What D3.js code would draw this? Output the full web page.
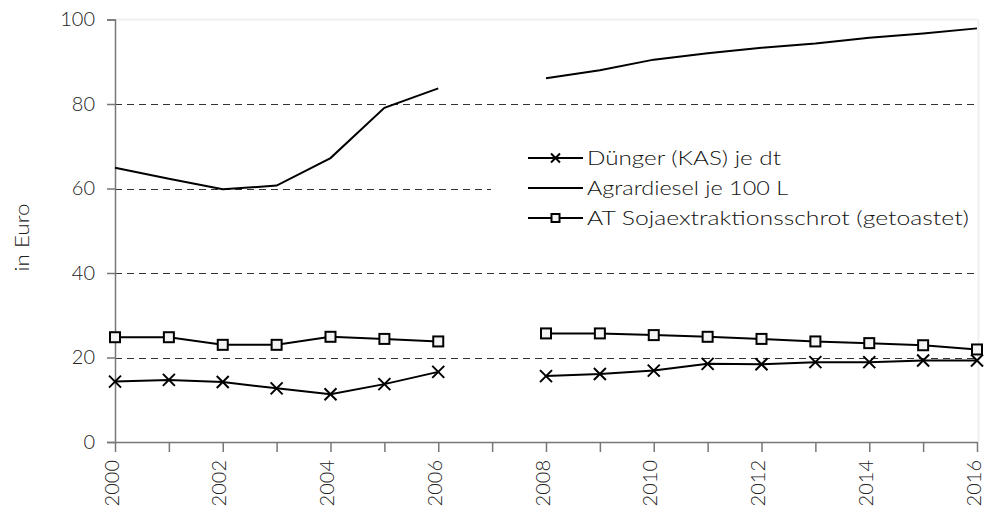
<!DOCTYPE html>
<html><head><meta charset="utf-8">
<script src="https://cdn.jsdelivr.net/npm/d3@7"></script>
<style>body{margin:0;background:#fff}svg{display:block}</style>
</head><body><svg id="c" width="985" height="519"></svg>
<script>
const years = [2000,2001,2002,2003,2004,2005,2006,2007,2008,2009,2010,2011,2012,2013,2014,2015,2016];
const duenger = [14.3,14.7,14.2,12.7,11.3,13.7,16.6,null,15.6,16.1,16.9,18.5,18.4,18.9,18.9,19.3,19.3];
const diesel = [64.9,62.3,59.8,60.7,67.2,79.1,83.7,null,86.1,88.0,90.5,92.0,93.3,94.3,95.7,96.7,97.9];
const soja = [24.8,24.8,23.0,23.0,24.9,24.4,23.8,null,25.7,25.7,25.3,24.9,24.4,23.8,23.4,22.9,21.9];
const yTicks = [0,20,40,60,80,100];
const xLabelYears = [2000,2002,2004,2006,2008,2010,2012,2014,2016];
const seriesNames = ["Dünger (KAS) je dt","Agrardiesel je 100 L","AT Sojaextraktionsschrot (getoastet)"];
const yTitle = "in Euro";

const FONT = "Lato, 'DejaVu Sans', sans-serif";
const svg = d3.select("#c");
const x = d3.scaleLinear().domain([2000,2016]).range([115,977]);
const y = d3.scaleLinear().domain([0,100]).range([442,19.5]);

// plot border (faint)
svg.append("line").attr("x1",115).attr("x2",978).attr("y1",19.5).attr("y2",19.5).attr("stroke","#f0f0f0").attr("stroke-width",2);
svg.append("line").attr("x1",978.5).attr("x2",978.5).attr("y1",19.5).attr("y2",442).attr("stroke","#f0f0f0").attr("stroke-width",2);

// grid
svg.append("g").selectAll("line").data(yTicks.filter(v=>v>0&&v<100)).join("line")
  .attr("x1",115).attr("x2",977).attr("y1",d=>Math.round(y(d))+0.5).attr("y2",d=>Math.round(y(d))+0.5)
  .attr("stroke","#333").attr("stroke-width",1).attr("stroke-dasharray","7,5");

// y axis
const ya = svg.append("g").attr("transform","translate(115,0)")
  .call(d3.axisLeft(y).tickValues(yTicks).tickSize(8).tickPadding(12).tickFormat(d3.format("d")));
ya.select(".domain").attr("stroke","#777").attr("stroke-width",1.5);
ya.selectAll(".tick line").attr("stroke","#777").attr("stroke-width",1.5);
ya.selectAll("text").attr("font-family",FONT).attr("font-weight",300).attr("font-size",20).attr("fill","#222");

// x axis
const xa = svg.append("g").attr("transform","translate(0,442)")
  .call(d3.axisBottom(x).tickValues(years).tickSize(10).tickSizeOuter(0).tickFormat(d=>xLabelYears.includes(d)?String(d):""));
xa.select(".domain").attr("stroke","#777").attr("stroke-width",1.5);
xa.selectAll(".tick line").attr("stroke","#777").attr("stroke-width",1.5);
xa.selectAll("text").attr("font-family",FONT).attr("font-weight",300).attr("font-size",20).attr("fill","#222")
  .attr("transform","rotate(-90)").attr("text-anchor","end").attr("x",-18).attr("y",0).attr("dy",3);

// y title
svg.append("text").attr("transform","translate(29,237.5) rotate(-90)").attr("text-anchor","middle")
  .attr("font-family",FONT).attr("font-weight",300).attr("font-size",20).attr("fill","#222")
  .attr("textLength",68).attr("lengthAdjust","spacingAndGlyphs").text(yTitle);

const line = d3.line().defined(d=>d[1]!=null).x(d=>x(d[0])).y(d=>y(d[1]));
function draw(vals){
  svg.append("path").datum(years.map((yr,i)=>[yr,vals[i]])).attr("d",line)
    .attr("fill","none").attr("stroke","#000").attr("stroke-width",2);
}
draw(diesel); draw(soja); draw(duenger);

function xMark(g,cx,cy,s){
  g.append("path").attr("d",`M${cx-s},${cy-s}L${cx+s},${cy+s}M${cx-s},${cy+s}L${cx+s},${cy-s}`)
   .attr("stroke","#000").attr("stroke-width",2).attr("fill","none");
}
function sqMark(g,cx,cy,s){
  g.append("rect").attr("x",cx-s).attr("y",cy-s).attr("width",2*s).attr("height",2*s)
   .attr("fill","#f4f4f4").attr("stroke","#000").attr("stroke-width",2);
}
const mg = svg.append("g");
years.forEach((yr,i)=>{ if(soja[i]!=null) sqMark(mg,x(yr),y(soja[i]),5); });
years.forEach((yr,i)=>{ if(duenger[i]!=null) xMark(mg,x(yr),y(duenger[i]),6); });

// legend
const lg = svg.append("g");
lg.append("rect").attr("x",491).attr("y",140).attr("width",486).attr("height",100).attr("fill","#fff");
const rows = [158,188,218];
const textLens = [194,201,382];
rows.forEach((ry,i)=>{
  lg.append("line").attr("x1",528).attr("x2",583).attr("y1",ry).attr("y2",ry).attr("stroke","#000").attr("stroke-width",2);
  if(i===0) xMark(lg,555.5,ry,4.5);
  if(i===2) sqMark(lg,555.5,ry,4);
  lg.append("text").attr("x",587).attr("y",ry).attr("dy","0.35em").attr("font-family",FONT).attr("font-weight",300).attr("font-size",20)
    .attr("fill","#111").attr("textLength",textLens[i]).attr("lengthAdjust","spacingAndGlyphs").text(seriesNames[i]);
});
</script></body></html>
